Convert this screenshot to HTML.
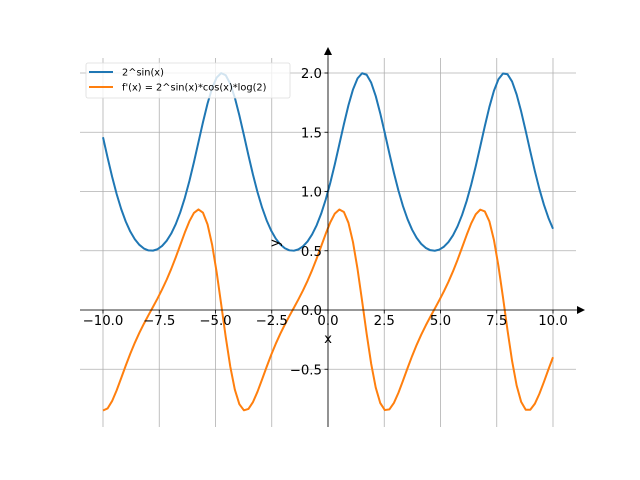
<!DOCTYPE html>
<html><head><meta charset="utf-8"><style>
html,body{margin:0;padding:0;background:#fff;}
svg{display:block;font-family:"DejaVu Sans","Liberation Sans",sans-serif;}
</style></head><body>
<svg id="s" width="640" height="480" viewBox="0 0 640 480" xmlns="http://www.w3.org/2000/svg">
<rect width="640" height="480" fill="#fff"/>
<g id="grid" stroke="#b0b0b0" stroke-width="0.8"></g>
<path id="p1" fill="none" stroke="#1f77b4" stroke-width="2" stroke-linejoin="round"/>
<path id="p2" fill="none" stroke="#ff7f0e" stroke-width="2" stroke-linejoin="round"/>
<g stroke="#000" stroke-width="0.8">
<line x1="80" y1="310" x2="580" y2="310"/>
<line x1="328" y1="427" x2="328" y2="52"/>
</g>
<polygon points="585,310 577,306 577,314" fill="#000"/>
<polygon points="328,47 324,55 332,55" fill="#000"/>
<g id="ticks" stroke="#000" stroke-width="0.8"></g>
<g id="labels" font-size="13.3" fill="#000"></g>
<text x="328" y="343" font-size="13.3" text-anchor="middle">x</text>
<text x="0" y="0" font-size="13.3" text-anchor="middle" transform="translate(279,243) rotate(-90)">y</text>
<rect x="86" y="63" width="204" height="35" fill="#fff" fill-opacity="0.8" stroke="#ddd" stroke-width="0.8" rx="2"/>
<line x1="89" y1="72" x2="113" y2="72" stroke="#1f77b4" stroke-width="2"/>
<line x1="89" y1="87" x2="113" y2="87" stroke="#ff7f0e" stroke-width="2"/>
<text x="122" y="75.5" font-size="9.8">2^sin(x)</text>
<text x="122" y="90.5" font-size="9.8">f'(x) = 2^sin(x)*cos(x)*log(2)</text>
</svg>
<script>
var X=function(x){return 328+x*22.5}, Y=function(y){return 310-y*118.5};
var g=document.getElementById('grid'),t=document.getElementById('ticks'),l=document.getElementById('labels');
var ns="http://www.w3.org/2000/svg";
function el(p,n,a,txt){var e=document.createElementNS(ns,n);for(var k in a)e.setAttribute(k,a[k]);if(txt!=null)e.textContent=txt;p.appendChild(e);}
for(var v=-10;v<=10;v+=2.5){var px=X(v);el(g,'line',{x1:px,y1:58,x2:px,y2:427});el(t,'line',{x1:px,y1:310,x2:px,y2:313.5});
el(l,'text',{x:px,y:325,'text-anchor':'middle'},(v<0?'\u2212':'')+Math.abs(v).toFixed(1));}
for(var v=-0.5;v<=2.01;v+=0.5){var py=Y(v);el(g,'line',{x1:80,y1:py,x2:576,y2:py});el(t,'line',{x1:324.5,y1:py,x2:328,y2:py});
el(l,'text',{x:322,y:py+5,'text-anchor':'end'},(v<0?'\u2212':'')+Math.abs(v).toFixed(1));}
var d1='',d2='';
for(var i=0;i<100;i++){var x=-10+20*i/99,f=Math.pow(2,Math.sin(x)),fp=f*Math.cos(x)*Math.LN2;
d1+=(i?'L':'M')+X(x).toFixed(2)+','+Y(f).toFixed(2);d2+=(i?'L':'M')+X(x).toFixed(2)+','+Y(fp).toFixed(2);}
document.getElementById('p1').setAttribute('d',d1);document.getElementById('p2').setAttribute('d',d2);
</script>
</body></html>
